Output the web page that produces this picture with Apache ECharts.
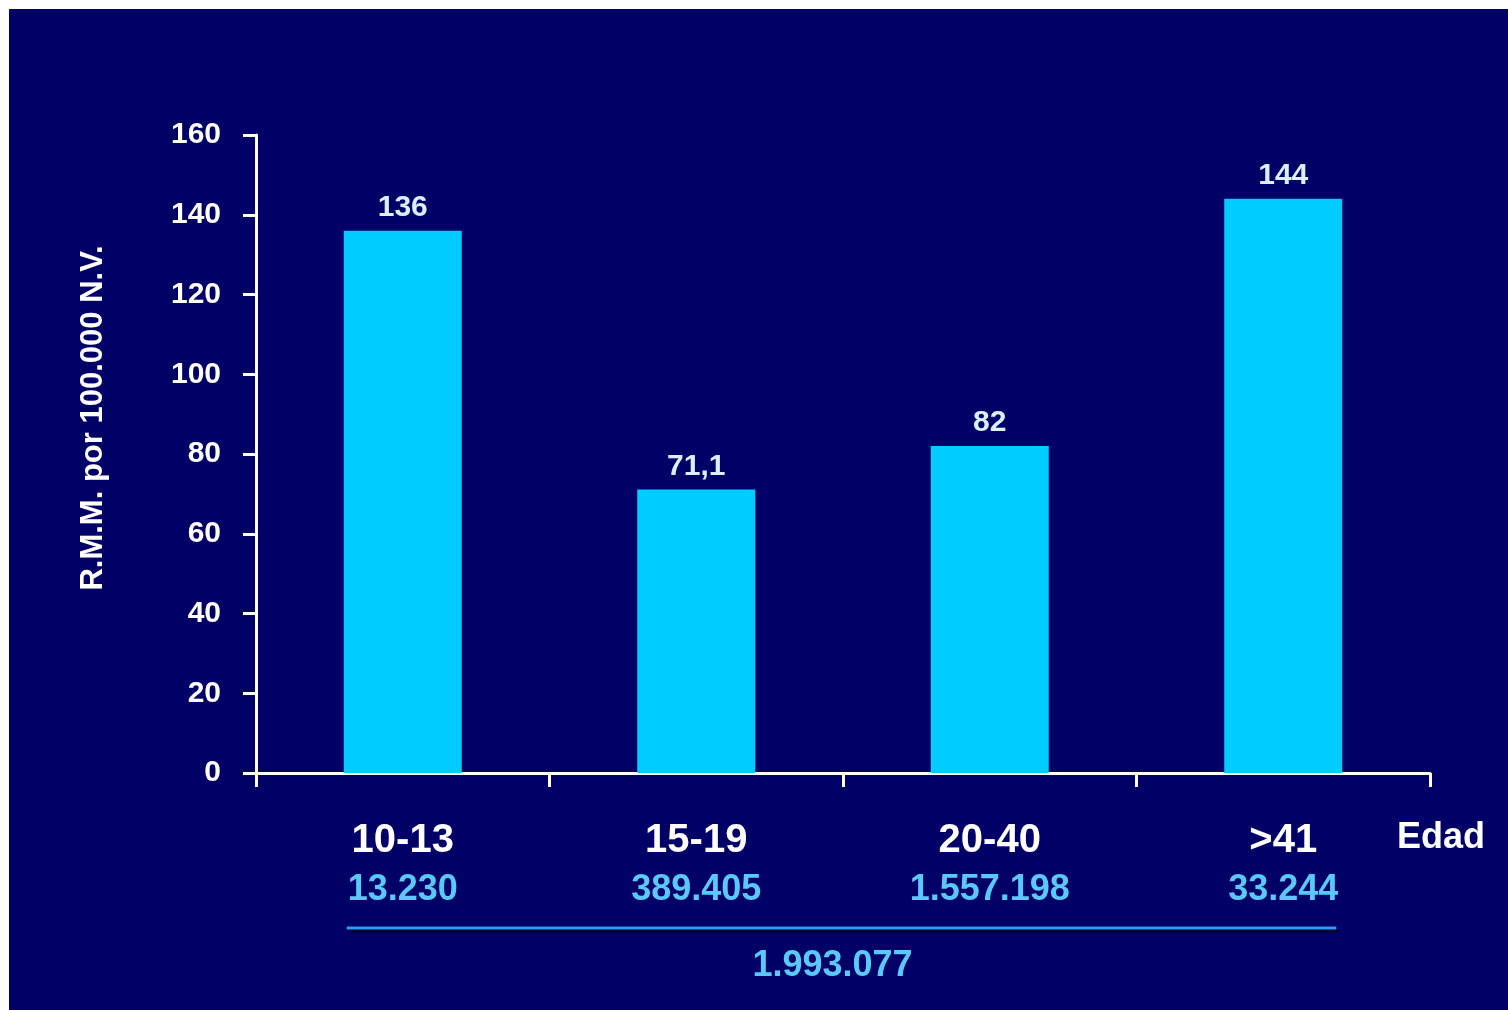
<!DOCTYPE html>
<html>
<head>
<meta charset="utf-8">
<script src="https://cdn.jsdelivr.net/npm/echarts@6/dist/echarts.min.js"></script>
<style>
  html, body { margin: 0; padding: 0; background: #ffffff; width: 1508px; height: 1010px; overflow: hidden; }
  #chart { position: absolute; left: 9px; top: 9px; width: 1499px; height: 1001px; }
</style>
</head>
<body>
<div id="chart"></div>
<script>
// Razón de mortalidad materna por grupo de edad
const ageGroups = ['10-13', '15-19', '20-40', '>41'];
const rmmValues = [136, 71.1, 82, 144];
const liveBirths = ['13.230', '389.405', '1.557.198', '33.244'];
const totalBirths = '1.993.077';
const yTicks = { min: 0, max: 160, interval: 20 };

const FONT = '"Liberation Sans", Arial, sans-serif';
const BAR_W = 118;
const GRID = { left: 247, top: 126, right: 78, bottom: 237 };
const shadow = { textShadowColor: '#000000', textShadowOffsetX: 2, textShadowOffsetY: 3, textShadowBlur: 0 };

const chart = echarts.init(document.getElementById('chart'));

const option = {
  backgroundColor: '#000066',
  animation: false,
  grid: Object.assign({ containLabel: false }, GRID),
  xAxis: {
    type: 'category',
    data: ageGroups,
    axisLine: { show: true, lineStyle: { color: '#ffffff', width: 3 } },
    axisTick: { show: true, length: 14, lineStyle: { color: '#ffffff', width: 3 } },
    axisLabel: {
      margin: 44,
      formatter: (v, i) => '{a|' + v + '}\n{b|' + liveBirths[i] + '}',
      rich: {
        a: { color: '#ffffff', fontFamily: FONT, fontWeight: 'bold', fontSize: 40, lineHeight: 48 },
        b: Object.assign({ color: '#5ac8fa', fontFamily: FONT, fontWeight: 'bold', fontSize: 36, lineHeight: 50 }, shadow)
      }
    },
    splitLine: { show: false }
  },
  yAxis: {
    type: 'value',
    min: yTicks.min,
    max: yTicks.max,
    interval: yTicks.interval,
    axisLine: { show: true, lineStyle: { color: '#ffffff', width: 3 } },
    axisTick: { show: true, length: 13, lineStyle: { color: '#ffffff', width: 3 } },
    axisLabel: { color: '#ffffff', fontFamily: FONT, fontWeight: 'bold', fontSize: 30, margin: 35 },
    splitLine: { show: false }
  },
  series: [{
    type: 'bar',
    data: rmmValues,
    barWidth: BAR_W,
    itemStyle: { color: '#00ccff' },
    label: Object.assign({
      show: true,
      position: 'top',
      distance: 8,
      color: '#d8f0ff',
      fontFamily: FONT,
      fontWeight: 'bold',
      fontSize: 30,
      formatter: p => String(p.value).replace('.', ',')
    }, shadow)
  }]
};

chart.setOption(option);

// Línea de total bajo los grupos, nombre del eje X y título del eje vertical
const first = chart.convertToPixel({ xAxisIndex: 0 }, 0);
const last = chart.convertToPixel({ xAxisIndex: 0 }, ageGroups.length - 1);
const lineX0 = first - BAR_W / 2 + 3;
const lineX1 = last + BAR_W / 2 - 6;
const lineY = 919;
const midX = (lineX0 + lineX1) / 2;
const axisEndX = chart.getWidth() - GRID.right;

chart.setOption({
  graphic: [
    {
      type: 'line', silent: true,
      shape: { x1: lineX0 + 2, y1: lineY + 3, x2: lineX1 + 2, y2: lineY + 3 },
      style: { stroke: '#000022', lineWidth: 3 }
    },
    {
      type: 'line', silent: true,
      shape: { x1: lineX0, y1: lineY, x2: lineX1, y2: lineY },
      style: { stroke: '#3399ff', lineWidth: 3 }
    },
    {
      type: 'text', silent: true,
      x: midX - 9, y: 957,
      style: {
        text: totalBirths, fill: '#5ac8fa', font: 'bold 36px ' + FONT,
        align: 'center', verticalAlign: 'middle',
        textShadowColor: '#000000', textShadowOffsetX: 2, textShadowOffsetY: 3
      }
    },
    {
      type: 'text', silent: true,
      x: axisEndX - 33, y: 829,
      style: {
        text: 'Edad', fill: '#ffffff', font: 'bold 36px ' + FONT,
        align: 'left', verticalAlign: 'middle'
      }
    },
    {
      type: 'text', silent: true,
      x: 84, y: 409, rotation: Math.PI / 2,
      style: {
        text: 'R.M.M. por 100.000 N.V.', fill: '#ffffff', font: 'bold 31px ' + FONT,
        align: 'center', verticalAlign: 'middle',
        textShadowColor: '#000000', textShadowOffsetX: 2, textShadowOffsetY: 2
      }
    }
  ]
});
</script>
</body>
</html>
